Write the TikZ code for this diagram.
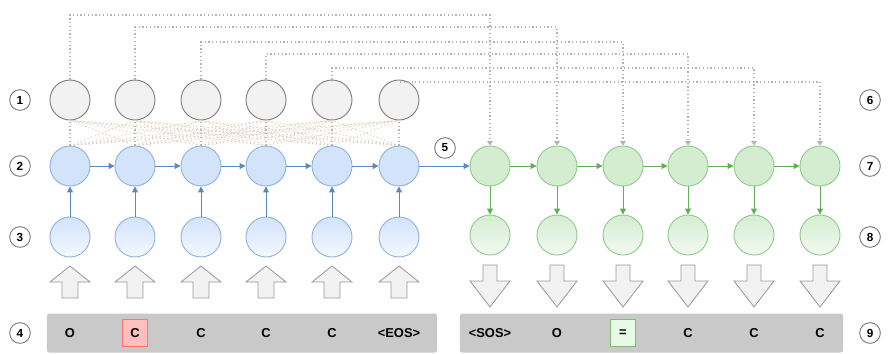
\documentclass[tikz,border=0pt]{standalone}
\usepackage{fontspec}
\setmainfont{Liberation Sans}
\usetikzlibrary{arrows.meta}
\definecolor{attnfill}{HTML}{F2F2F2}
\definecolor{attnline}{HTML}{7E7E7E}
\definecolor{encfill}{HTML}{D2E3FA}
\definecolor{encline}{HTML}{8FB2DF}
\definecolor{encarrow}{HTML}{5D87C2}
\definecolor{decfill}{HTML}{D4EDD1}
\definecolor{decline}{HTML}{93C98F}
\definecolor{decarrow}{HTML}{62AD58}
\definecolor{linkgray}{HTML}{B3B3B3}
\definecolor{crossline}{HTML}{DDCBBE}
\definecolor{barfill}{HTML}{C9C9C9}
\tikzset{
  attn/.style={circle, draw=attnline, fill=attnfill, minimum size=1.2cm, line width=0.8pt},
  enc/.style={circle, draw=encline, fill=encfill, minimum size=1.2cm, line width=0.8pt},
  encin/.style={circle, draw=encline, top color=encfill, bottom color=encfill!25, minimum size=1.2cm, line width=0.8pt},
  dec/.style={circle, draw=decline, fill=decfill, minimum size=1.2cm, line width=0.8pt},
  decout/.style={circle, draw=decline, top color=decfill, bottom color=decfill!30, minimum size=1.2cm, line width=0.8pt},
  num/.style={circle, draw=attnline, fill=white, minimum size=0.62cm, inner sep=0pt, line width=0.8pt, font=\fontsize{10}{12}\selectfont\bfseries},
  tok/.style={inner sep=3pt, font=\fontsize{11}{13}\selectfont\bfseries},
  tokred/.style={tok, draw=red!55, fill=red!25, minimum width=0.75cm, minimum height=0.8cm},
  tokgreen/.style={tok, draw=decarrow!80, fill=decfill!80!green!30, minimum width=0.75cm, minimum height=0.8cm},
  bar/.style={fill=barfill, rounded corners=2pt, minimum height=1.17cm},
  link/.style={draw=linkgray, line width=0.9pt, dash pattern=on 1pt off 2.2pt},
  cross/.style={draw=crossline, line width=0.8pt, dash pattern=on 1pt off 2.2pt},
  blockarrow/.style={draw=attnline!80, fill=attnfill, line width=0.7pt},
  tip/.style={-{Triangle[length=5pt,width=5pt]}, line width=0.8pt}
}
\begin{document}
\begin{tikzpicture}[x=0.03cm, y=-0.03cm]
    \useasboundingbox (0,0) rectangle (894,353);
    % bars with the tokens
    \node[bar, minimum width=11.7cm] (inbar) at (242,333) {};
    \node[bar, minimum width=11.49cm] (outbar) at (651.5,333) {};
    % encoder side
    \foreach \x/\t/\s [count=\i] in {70/O/tok, 135/C/tokred, 201/C/tok, 266/C/tok, 332/C/tok, 399/<EOS>/tok}{
        \node[attn] (a\i) at (\x,100) {};
        \node[enc] (e\i) at (\x,166) {};
        \node[encin] (x\i) at (\x,237) {};
        \node[\s] (in\i) at (\x,333) {\t};
        \draw[blockarrow] (\x-8,298) -- (\x-8,282) -- (\x-20,282) -- (\x,266)
            -- (\x+20,282) -- (\x+8,282) -- (\x+8,298) -- cycle;
    }
    % decoder side
    \foreach \x/\t/\s [count=\i] in {490/<SOS>/tok, 557/O/tok, 623/=/tokgreen, 688/C/tok, 754/C/tok, 820/C/tok}{
        \node[dec] (d\i) at (\x,166) {};
        \node[decout] (y\i) at (\x,235) {};
        \node[\s] (out\i) at (\x,333) {\t};
        \draw[blockarrow] (\x-7,265) -- (\x-7,281) -- (\x-20,281) -- (\x,307)
            -- (\x+20,281) -- (\x+7,281) -- (\x+7,265) -- cycle;
    }
    % attention links
    \foreach \i in {1,...,6}{
        \foreach \j in {1,...,6}{
            \ifnum\i=\j\else
                \draw[cross] (e\i.north) -- (a\j.south);
            \fi
        }
        \draw[link] (e\i) -- (a\i);
    }
    \foreach \i/\lv in {1/15, 2/27, 3/42, 4/54, 5/68, 6/82}{
        \coordinate (t\i) at (a\i.north |- 0,\lv);
        \draw[link, -{Triangle[length=4pt,width=5pt]}] (a\i.north) -- (t\i) -| (d\i.north);
    }
    % recurrent connections
    \foreach \i [evaluate=\i as \k using int(\i+1)] in {1,...,5}{
        \draw[tip, encarrow] (e\i) -- (e\k);
        \draw[tip, decarrow] (d\i) -- (d\k);
    }
    \foreach \i in {1,...,6}{
        \draw[tip, encarrow] (x\i) -- (e\i);
        \draw[tip, decarrow] (d\i) -- (y\i);
    }
    \draw[tip, encarrow] (e6) -- (d1);
    % step numbers
    \node[num] (n1) at (20,100) {1};
    \node[num] (n2) at (20,166) {2};
    \node[num] (n3) at (20,237) {3};
    \node[num] (n4) at (20,333) {4};
    \node[num] (n5) at (445,148) {5};
    \node[num] (n6) at (870,100) {6};
    \node[num] (n7) at (870,166) {7};
    \node[num] (n8) at (870,237) {8};
    \node[num] (n9) at (870,333) {9};
\end{tikzpicture}
\end{document}
